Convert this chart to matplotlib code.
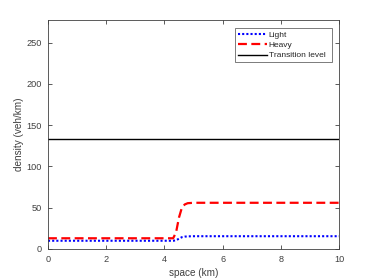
import matplotlib
matplotlib.use("Agg")
import matplotlib.pyplot as plt

space = [0, 4.3, 4.4, 4.5, 4.6, 4.7, 4.8, 5.0, 10]
light = [10, 10, 10.5, 12.5, 14.3, 15, 15.3, 15.5, 15.5]
heavy = [13, 13, 20, 38, 50, 54, 55.5, 56, 56]
transition = 133

plt.rcParams['font.family'] = ['Liberation Sans', 'DejaVu Sans']
tc = '#404040'
fig = plt.figure(figsize=(3.74, 2.8), dpi=100)
ax = fig.add_axes([48/374, 1-249/280, (339-48)/374, (249-20)/280])
ax.plot(space, light, color='#0000ff', linestyle=(0, (1, 1)), lw=1.5, label='Light')
ax.plot(space, heavy, color='#ff0000', linestyle=(0, (4, 2)), lw=1.6, label='Heavy')
ax.axhline(transition, color='#000000', lw=1, label='Transition level')
ax.set_xlim(0, 10)
ax.set_ylim(0, 277.5)
ax.set_xticks([0, 2, 4, 6, 8, 10])
ax.set_yticks([0, 50, 100, 150, 200, 250])
ax.tick_params(direction='in', top=True, right=True, labelsize=6.6, colors=tc,
               length=3, width=0.6, pad=4.5)
for s in ax.spines.values():
    s.set_color(tc)
    s.set_linewidth(0.6)
ax.set_xlabel('space (km)', fontsize=7.2, color=tc, labelpad=2.5)
ax.set_ylabel('density (veh/km)', fontsize=7.2, color=tc, labelpad=1.5)
leg = ax.legend(loc='upper left', bbox_to_anchor=(0.6426, 0, 0.3333, 0.965),
                mode='expand', borderaxespad=0,
                fontsize=6.0, frameon=True, fancybox=False,
                edgecolor=tc, handlelength=3.5, handletextpad=0.2,
                borderpad=0.35, labelspacing=0.3)
leg.get_frame().set_linewidth(0.6)
for t in leg.get_texts():
    t.set_color('#262626')
fig.savefig('out.png', dpi=100)
